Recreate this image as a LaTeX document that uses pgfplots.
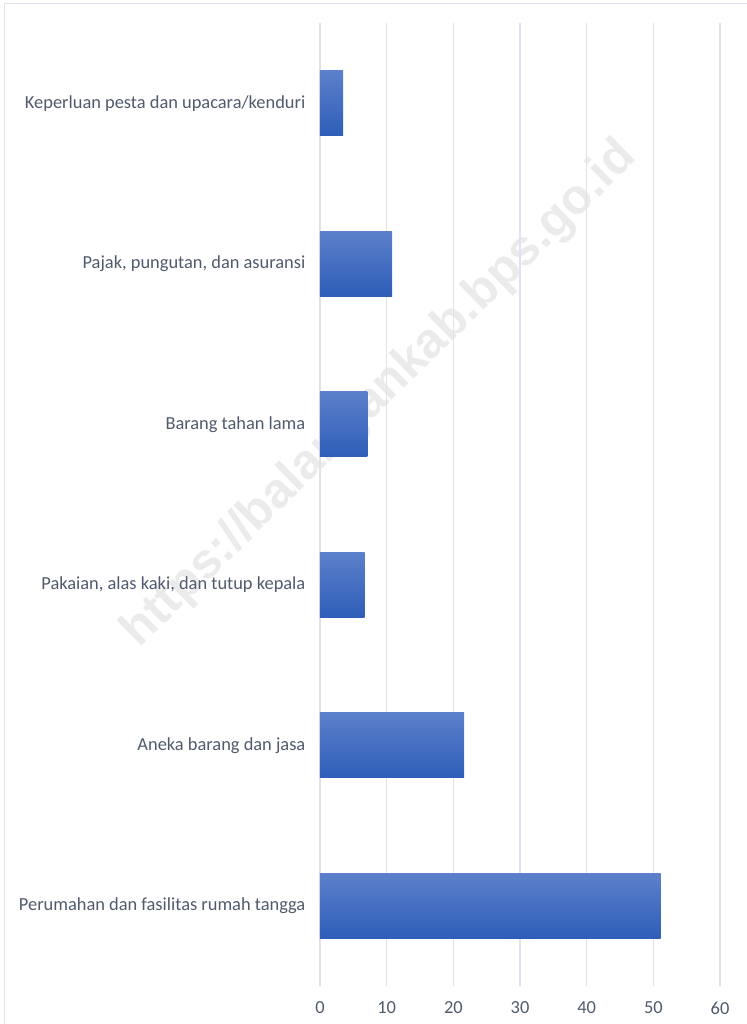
\documentclass[border=0pt]{standalone}
\usepackage{pgfplots}
\pgfplotsset{compat=1.18}
\usepackage{fontspec}
\setmainfont{Carlito}
\newfontfamily\wmfont{Liberation Sans}
\definecolor{txt}{HTML}{4F5A6C}
\definecolor{gridc}{HTML}{DDE3EC}
\definecolor{bartop}{HTML}{5C80CB}
\definecolor{barmid}{HTML}{4472C4}
\definecolor{barbot}{HTML}{2E5EB8}

\begin{document}
\begin{tikzpicture}
% watermark
\node[rotate=44.5, text=black!8, font=\wmfont\bfseries\fontsize{37}{40}\selectfont]
  at (285pt,-296pt) {https://balangankab.bps.go.id};
\begin{axis}[
  at={(240pt,-17.25pt)}, anchor=north west,
  scale only axis, width=300pt, height=722.25pt,
  xbar, bar width=48.75pt, bar shift=0pt,
  xmin=0, xmax=60, xtick={0,10,...,60},
  ymin=-0.5, ymax=5.5, ytick={0,...,5},
  yticklabels={Perumahan dan fasilitas rumah tangga, Aneka barang dan jasa,
    {Pakaian, alas kaki, dan tutup kepala}, Barang tahan lama,
    {Pajak, pungutan, dan asuransi}, Keperluan pesta dan upacara/kenduri},
  axis line style={draw=none}, major tick length=0pt,
  xmajorgrids, ymajorgrids=false, major grid style={draw=gridc, line width=0.8pt},
  tick label style={font=\fontsize{13.8}{16}\selectfont, text=txt},
  xticklabel style={yshift=-8.5pt},
  yticklabel style={xshift=-7.5pt},
  /pgf/number format/assume math mode=true,
  every axis plot/.append style={draw=none, top color=bartop, middle color=barmid, bottom color=barbot},
]
% one plot per bar so that each bar gets its own gradient
\addplot coordinates {(51.1,0)};
\addplot coordinates {(21.6,1)};
\addplot coordinates {(6.7,2)};
\addplot coordinates {(7.1,3)};
\addplot coordinates {(10.8,4)};
\addplot coordinates {(3.45,5)};
\end{axis}
% outer frame (cropped at right and bottom)
\draw[gridc, line width=0.6pt] (3pt,-800pt) -- (3pt,-2.25pt) -- (600pt,-2.25pt);
\pgfresetboundingbox
\useasboundingbox (0,0) rectangle (559.5pt,-768pt);
\end{tikzpicture}
\end{document}
